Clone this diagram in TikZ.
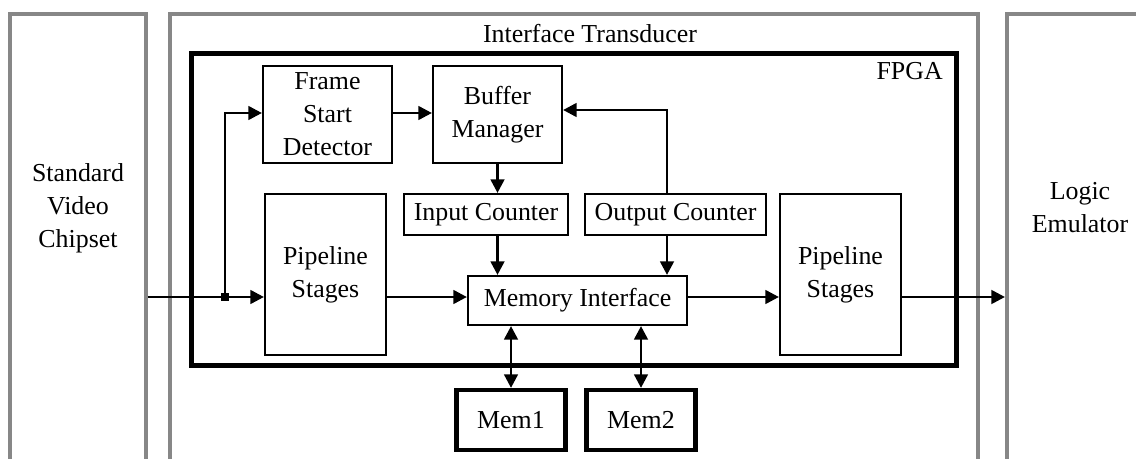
\documentclass[tikz,border=0pt]{standalone}
\usepackage{fontspec}
\setmainfont{Liberation Serif}
\usepackage{tikz}
\usetikzlibrary{arrows.meta}
\usetikzlibrary{positioning}
\definecolor{hgray}{rgb}{0.53, 0.53, 0.53}
\tikzset{blk/.style = {draw, line width=1.5pt, align=center, inner sep=0pt},
         memblk/.style = {draw, line width=3pt, inner sep=0pt,
                          minimum width=2.725cm, minimum height=1.5cm},
         hostblk/.style = {draw=hgray, line width=1mm, inner sep=0pt, minimum height=12.65cm},
         pipeblk/.style = {blk, minimum width=3.025cm, minimum height=4.025cm},
         flow/.style = {line width=2pt, -{Triangle[length=3.4mm, width=3.4mm]}},
         dflow/.style = {line width=2pt,
                         {Triangle[length=3.4mm, width=3.4mm]}-{Triangle[length=3.4mm, width=3.4mm]}}}

\begin{document}
\begin{tikzpicture}[x=0.025cm, y=-0.025cm, font=\fontsize{18.4}{23.5}\selectfont]
    \useasboundingbox (0, 0) rectangle (1136, 459);

    \node [hostblk, minimum width=3.39cm] (chipset) at (77.75, 267) {};
    \node [hostblk, minimum width=20.2cm] (transbox) at (574, 267) {};
    \node [hostblk, minimum width=7.325cm] (emulator) at (1153.5, 267) {};
    \node [align=center, inner sep=0pt] (chipsettxt) at (78, 208.5) {Standard\\Video\\Chipset};
    \node [align=center, inner sep=0pt] (emulatortxt) at (1080, 207.5) {Logic\\Emulator};
    \node [inner sep=0pt] (transducer) at (590, 34) {Interface Transducer};

    \node [draw, line width=3.6pt, minimum width=19.125cm, minimum height=7.79cm] (fpga) at (574, 209.75) {};
    \node [anchor=north east, inner sep=0pt] (fpgatxt) at (943, 62) {FPGA};

    \node [blk, minimum width=3.225cm, minimum height=2.425cm] (fsd) at (327.5, 114.5) {Frame\\Start\\Detector};
    \node [blk, minimum width=3.225cm, minimum height=2.425cm] (buf) at (497.5, 114.5) {Buffer\\Manager};
    \node [blk, minimum width=4.1cm, minimum height=1.025cm] (incnt) at (486, 214.5) {Input Counter};
    \node [blk, minimum width=4.525cm, minimum height=1.025cm] (outcnt) at (675.5, 214.5) {Output Counter};
    \node [blk, minimum width=5.475cm, minimum height=1.225cm] (memif) at (577.5, 300.5) {Memory Interface};
    \node [pipeblk] (pipein) at (325.5, 274.5) {Pipeline\\Stages};
    \node [pipeblk] (pipeout) at (840.5, 274.5) {Pipeline\\Stages};
    \node [memblk] (mem1) at (511, 420) {Mem1};
    \node [memblk] (mem2) at (641, 420) {Mem2};

    \node [fill, inner sep=0pt, minimum size=1.9mm] (split) at (225, 297) {};
    \coordinate (fb) at (667, 110);

    \draw [flow] (chipset.east |- split) -- (pipein.west |- split);
    \draw [flow] (split.center) |- (fsd.west |- 0, 113);
    \draw [flow] (fsd.east |- 0, 113) -- (buf.west |- 0, 113);
    \draw [flow] (outcnt.north -| fb) |- (buf.east |- fb);
    \draw [flow] (buf.south) -- (incnt.north -| buf.south);
    \draw [flow] (incnt.south -| buf.south) -- (memif.north -| buf.south);
    \draw [flow] (outcnt.south -| fb) -- (memif.north -| fb);
    \draw [flow] (pipein.east |- split) -- (memif.west |- split);
    \draw [flow] (memif.east |- split) -- (pipeout.west |- split);
    \draw [flow] (pipeout.east |- split) -- (emulator.west |- split);
    \draw [dflow] (memif.south -| mem1.north) -- (mem1.north);
    \draw [dflow] (memif.south -| mem2.north) -- (mem2.north);
\end{tikzpicture}
\end{document}
